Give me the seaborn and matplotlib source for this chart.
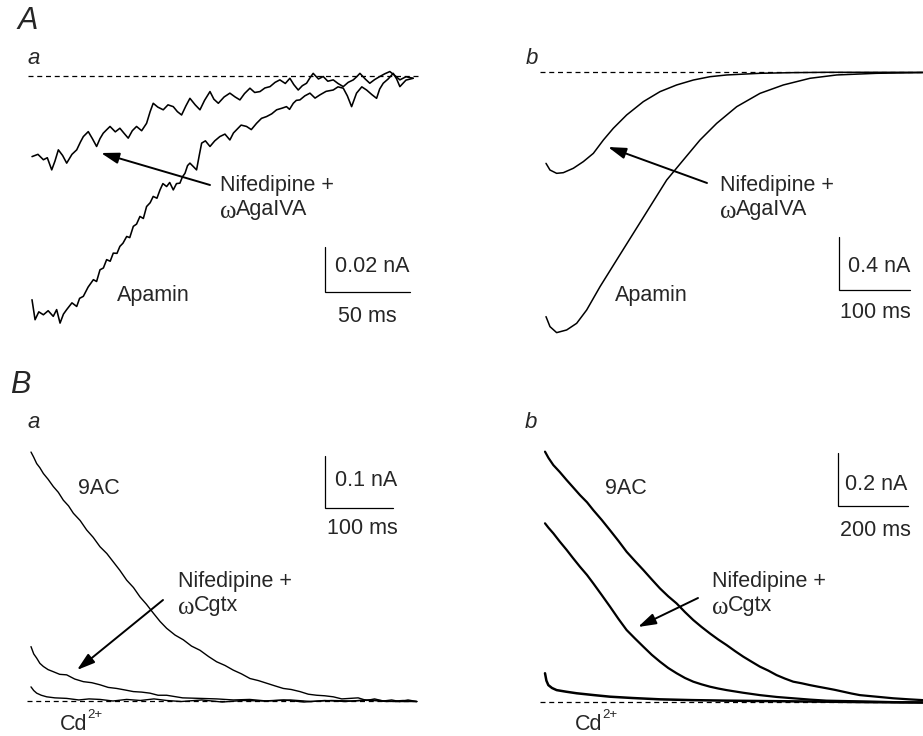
import matplotlib
matplotlib.use("Agg")
import matplotlib.pyplot as plt
import seaborn as sns
import numpy as np

sns.set_theme(style="white")
plt.rcParams['font.family'] = ['Liberation Sans', 'DejaVu Sans']
plt.rcParams['mathtext.fontset'] = 'custom'
plt.rcParams['mathtext.rm'] = 'Liberation Sans'

# ---------------- data ----------------
# Panel A a : time (ms), current (pA)
aa_nif_t = [0, 3.5, 6.7, 9.0, 11.6, 13.5, 15.5, 18.0, 20.4, 23.5, 26.3, 28.5, 30.2, 33.1, 35.5, 38.0, 40.0, 41.9,
            44.0, 45.9, 49.0, 51.7, 54.0, 56.6, 59.0, 61.5, 64.5, 67.4, 69.5, 71.3, 74.0, 77.2, 80.0, 83.1, 85.5,
            88.0, 90.5, 92.9, 96.0, 98.8, 101.5, 104.7, 107.0, 109.6, 113.0, 116.4, 119.5, 122.3, 125.0, 128.2,
            131.0, 134.1, 137.0, 140.0, 143.0, 145.8, 149.0, 151.7, 154.0, 156.6, 159.0, 161.5, 163.5, 165.4,
            168.5, 171.3, 174.0, 177.2, 180.0, 183.1, 186.0, 189.0, 191.0, 192.9, 196.0, 198.7, 201.5, 204.6,
            207.5, 210.5, 213.5, 216.4, 220.0, 224.2]
aa_nif_i = [-36.0, -35.0, -37.4, -36.5, -41.9, -38.0, -33.0, -35.5, -38.9, -35.0, -33.0, -29.5, -27.1, -24.9, -28.0,
            -31.5, -28.0, -25.6, -24.0, -22.6, -25.0, -23.4, -25.5, -27.8, -24.5, -22.6, -24.5, -21.2, -16.0,
            -12.3, -14.0, -15.2, -13.0, -13.8, -16.0, -17.5, -13.5, -10.1, -13.0, -15.2, -11.0, -7.1, -10.5,
            -12.3, -9.5, -7.8, -9.5, -10.8, -8.0, -5.6, -7.5, -7.1, -5.5, -4.9, -3.0, -1.9, -3.5, -1.2, -4.0,
            -6.4, -4.5, -3.4, -1.0, 1.0, -1.5, -0.4, -2.5, -1.9, -3.5, -4.9, -3.0, -1.9, -0.5, 1.0, -1.5, -3.4,
            -1.8, -0.4, 0.8, 1.8, 0.0, -1.9, -0.5, -1.2]
aa_apa_t = [0, 1.8, 4.0, 6.7, 9.5, 12.5, 14.5, 16.5, 18.5, 20.4, 23.5, 26.3, 28.0, 30.2, 33.0, 36.1, 38.0, 40.0,
            42.0, 43.9, 46.0, 47.8, 50.0, 51.7, 53.5, 55.7, 57.5, 59.6, 61.5, 63.5, 65.5, 67.4, 69.5, 71.3,
            73.5, 75.3, 77.0, 79.2, 81.0, 83.1, 85.0, 87.0, 88.5, 90.0, 91.5, 92.9, 95.0, 96.8, 98.5, 99.8,
            102.0, 104.7, 107.5, 110.5, 113.5, 116.4, 118.5, 120.3, 123.0, 126.2, 129.0, 132.1, 135.0, 138.0,
            141.0, 143.9, 147.0, 149.7, 151.5, 153.7, 155.5, 157.6, 160.5, 163.5, 166.5, 169.3, 173.0, 177.2,
            180.0, 183.1, 185.5, 188.0, 190.9, 194.0, 196.8, 200.0, 202.7, 204.5, 206.6, 209.5, 212.5, 214.5,
            216.4, 220.0, 224.2]
aa_apa_i = [-99.6, -108.5, -105.0, -106.3, -104.5, -107.0, -104.0, -110.0, -106.0, -104.0, -101.0, -102.6,
            -99.0, -98.1, -94.0, -90.7, -91.5, -86.3, -85.5, -81.8, -82.5, -78.9, -79.0, -75.9, -74.5, -71.5,
            -72.0, -67.0, -66.0, -62.6, -63.5, -58.2, -56.5, -53.7, -54.5, -50.8, -48.0, -49.3, -47.5, -50.8,
            -48.0, -47.8, -45.0, -43.4, -40.0, -38.9, -40.5, -41.9, -35.0, -30.0, -29.0, -31.5, -29.0, -27.1,
            -26.0, -28.6, -25.5, -24.1, -22.0, -22.6, -24.0, -21.2, -19.0, -18.2, -17.0, -15.2, -14.5, -13.8,
            -15.0, -12.3, -11.0, -10.8, -9.0, -7.8, -10.0, -8.6, -7.0, -6.4, -5.0, -5.6, -9.0, -13.8, -7.8,
            -5.0, -6.4, -8.5, -10.1, -6.0, -3.4, -1.5, 1.0, -1.5, -4.9, -2.0, -1.2]

# Panel A b : time (ms), current (nA)
ab_nif_t = [0, 5.6, 15.0, 24.4, 38.5, 52.6, 66.7, 80.8, 94.8, 113.6, 137.1, 160.6, 184.0, 207.5, 231.0, 254.5,
            301.4, 348.4, 395.3, 531.0]
ab_nif_i = [-0.683, -0.733, -0.758, -0.753, -0.720, -0.670, -0.608, -0.508, -0.420, -0.320, -0.220, -0.145,
            -0.095, -0.058, -0.033, -0.020, -0.0075, -0.0025, 0.0, 0.0]
ab_apa_t = [0, 5.6, 15.0, 29.1, 43.2, 57.3, 76.1, 99.5, 123.0, 146.5, 170.0, 193.4, 216.9, 240.4, 268.6, 301.4,
            334.3, 371.8, 409.4, 465.7, 531.0]
ab_apa_i = [-1.833, -1.908, -1.953, -1.933, -1.883, -1.783, -1.608, -1.408, -1.208, -1.008, -0.808, -0.658,
            -0.508, -0.383, -0.258, -0.158, -0.095, -0.045, -0.020, -0.0075, -0.0025]

# Panel B a : time (ms), current (nA)
ba_9ac_t = [0, 4, 8.3, 13, 18.1, 25, 32.7, 40, 47.3, 55, 62.0, 72, 81.5, 91, 101.0, 111, 120.5, 130, 140.1, 150,
            159.6, 169, 179.1, 189, 198.6, 211, 223.0, 235, 247.4, 260, 271.8, 284, 296.2, 308, 320.6, 333,
            345.0, 357, 369.4, 381, 393.8, 406, 418.2, 430, 442.6, 455, 467.0, 479, 491.4, 503, 515.8, 528,
            540, 552, 564.6]
ba_9ac_i = [0.476, 0.466, 0.454, 0.446, 0.435, 0.424, 0.410, 0.399, 0.384, 0.373, 0.359, 0.345, 0.327, 0.313,
            0.295, 0.282, 0.266, 0.250, 0.231, 0.217, 0.199, 0.185, 0.168, 0.152, 0.139, 0.126, 0.117, 0.105,
            0.097, 0.085, 0.075, 0.068, 0.059, 0.052, 0.043, 0.039, 0.034, 0.029, 0.024, 0.022, 0.018, 0.013,
            0.011, 0.010, 0.008, 0.004, 0.005, 0.006, 0.001, 0.004, 0.000, 0.002, -0.001, 0.002, -0.001]
ba_nif_t = [0, 4, 8.3, 13, 18.1, 25, 32.7, 42, 52.2, 64, 76.6, 89, 101.0, 113, 125.4, 138, 149.8, 162, 174.2,
            186, 198.6, 222, 247.4, 272, 296.2, 320, 345, 380, 410, 440, 470, 500, 530, 564.6]
ba_nif_i = [0.104, 0.090, 0.082, 0.072, 0.066, 0.060, 0.056, 0.051, 0.050, 0.042, 0.037, 0.035, 0.031, 0.026,
            0.024, 0.021, 0.018, 0.017, 0.015, 0.011, 0.011, 0.006, 0.005, 0.004, 0.002, 0.003, 0.000, 0.002,
            -0.001, 0.001, 0.000, 0.002, -0.001, -0.001]
ba_cd_t = [0, 4, 8.3, 15, 23, 35, 52, 70, 85, 101, 120, 140, 160, 180, 198.6, 220, 250, 280, 310, 340, 370, 400,
           430, 460, 490, 520, 545, 564.6]
ba_cd_i = [0.027, 0.020, 0.015, 0.011, 0.008, 0.006, 0.005, 0.002, 0.004, 0.003, 0.000, 0.003, 0.001, 0.004,
           0.001, -0.001, 0.002, -0.002, 0.001, 0.000, 0.002, -0.002, 0.001, -0.001, 0.002, -0.001, 0.001, -0.001]

# Panel B b : time (ms), current (nA)
bb_9ac_t = [0, 10, 23.8, 42, 61.9, 80, 100, 120, 138, 162, 185.6, 210, 233.2, 257, 280.8, 305, 328.4, 352, 376,
            400, 423.6, 447, 471.2, 495, 518.8, 543, 566.4, 590, 614, 638, 661.6, 685, 709.2, 733, 756.8, 780,
            804.4, 828, 852, 876, 899.6, 923, 947.2, 971, 994.8, 1040, 1079.6]
bb_9ac_i = [0.949, 0.925, 0.898, 0.872, 0.841, 0.814, 0.784, 0.757, 0.727, 0.690, 0.651, 0.610, 0.569, 0.534,
            0.500, 0.464, 0.430, 0.400, 0.373, 0.340, 0.310, 0.284, 0.259, 0.236, 0.215, 0.192, 0.171, 0.152,
            0.133, 0.118, 0.101, 0.088, 0.076, 0.070, 0.063, 0.057, 0.051, 0.045, 0.038, 0.031, 0.025, 0.022,
            0.019, 0.016, 0.013, 0.009, 0.006]
bb_nif_t = [0, 10, 23.8, 42, 61.9, 80, 100, 120, 138, 162, 185.6, 210, 233.2, 257, 280.8, 305, 328.4, 352, 376,
            400, 423.6, 447, 471.2, 495, 518.8, 566, 614, 662, 709.2, 757, 804.4, 876, 947, 1010, 1079.6]
bb_nif_i = [0.677, 0.660, 0.639, 0.608, 0.576, 0.545, 0.512, 0.481, 0.449, 0.405, 0.361, 0.314, 0.272, 0.240,
            0.209, 0.178, 0.152, 0.128, 0.108, 0.090, 0.076, 0.066, 0.057, 0.050, 0.044, 0.034, 0.025, 0.018,
            0.013, 0.008, 0.004, 0.002, 0.000, -0.002, -0.003]
bb_cd_t = [0, 4, 9.5, 20, 33.3, 60, 90.4, 140, 185.6, 250, 328.4, 420, 518.8, 660, 804, 940, 1079.6]
bb_cd_i = [0.108, 0.080, 0.063, 0.052, 0.044, 0.038, 0.032, 0.025, 0.019, 0.014, 0.009, 0.006, 0.004, 0.002,
           0.000, -0.002, -0.003]

# ---------------- layout helpers ----------------
W, H = 923, 736
fig = plt.figure(figsize=(W / 100, H / 100), dpi=100)
fig.patch.set_facecolor('white')


def panel(box, t0_px, px_per_t, base_py, px_per_i):
    l, t, r, b = box
    ax = fig.add_axes([l / W, 1 - b / H, (r - l) / W, (b - t) / H])
    ax.set_xlim((l - t0_px) / px_per_t, (r - t0_px) / px_per_t)
    ax.set_ylim((base_py - b) / px_per_i, (base_py - t) / px_per_i)
    ax.axis('off')
    ax.patch.set_alpha(0)
    return ax


def trace(ax, t, i, lw):
    sns.lineplot(x=t, y=i, ax=ax, color='black', lw=lw, sort=False, estimator=None)


def baseline(ax, x0, x1):
    ax.plot([x0, x1], [0, 0], color='black', lw=0.9, ls=(0, (4, 3)))


def scalebar(ax, corner, xlen, ylen, geo):
    t0_px, ppt, base_py, ppi = geo
    cx = (corner[0] - t0_px) / ppt
    cy = (base_py - corner[1]) / ppi
    ax.plot([cx, cx, cx + xlen], [cy + ylen, cy, cy], color='black', lw=0.9, solid_joinstyle='miter')


geo_aa = (32, 1.7, 75.6, 2.25)
geo_ab = (546, 0.71, 72.3, 133.3)
geo_ba = (31, 0.683, 701, 523.0)
geo_bb = (545, 0.35, 701.7, 263.5)

ax_aa = panel((20, 40, 440, 340), *geo_aa)
baseline(ax_aa, -2.4, 227)
trace(ax_aa, aa_nif_t, aa_nif_i, 1.15)
trace(ax_aa, aa_apa_t, aa_apa_i, 1.15)
scalebar(ax_aa, (325, 292), 50, 20, geo_aa)

ax_ab = panel((520, 40, 923, 340), *geo_ab)
baseline(ax_ab, -8.5, 540)
trace(ax_ab, ab_nif_t, ab_nif_i, 1.1)
trace(ax_ab, ab_apa_t, ab_apa_i, 1.1)
scalebar(ax_ab, (839, 290), 100, 0.4, geo_ab)

ax_ba = panel((20, 400, 440, 736), *geo_ba)
baseline(ax_ba, -6, 566)
trace(ax_ba, ba_9ac_t, ba_9ac_i, 1.0)
trace(ax_ba, ba_nif_t, ba_nif_i, 1.0)
trace(ax_ba, ba_cd_t, ba_cd_i, 1.0)
scalebar(ax_ba, (325, 508), 100, 0.1, geo_ba)

ax_bb = panel((520, 400, 923, 736), *geo_bb)
baseline(ax_bb, -14, 1085)
trace(ax_bb, bb_9ac_t, bb_9ac_i, 1.6)
trace(ax_bb, bb_nif_t, bb_nif_i, 1.6)
trace(ax_bb, bb_cd_t, bb_cd_i, 1.8)
scalebar(ax_bb, (838, 506), 200, 0.2, geo_bb)

# ---------------- text and arrows (pixel overlay) ----------------
ov = fig.add_axes([0, 0, 1, 1])
ov.set_xlim(0, W)
ov.set_ylim(H, 0)
ov.axis('off')
ov.patch.set_alpha(0)

fs = 15.5
ov.text(17, 21, 'A', fontsize=22, style='italic', va='center', ha='left')
ov.text(10, 385, 'B', fontsize=22, style='italic', va='center', ha='left')
for x, y, s in [(27, 59, 'a'), (526, 59, 'b'), (27, 423, 'a'), (525, 423, 'b')]:
    ov.text(x, y, s, fontsize=16, style='italic', va='center', ha='left')

labels = [
    (220, 186, 'Nifedipine +'), (117, 295, 'Apamin'),
    (335, 267, '0.02 nA'), (338, 316, '50 ms'),
    (720, 186, 'Nifedipine +'), (615, 295, 'Apamin'),
    (848, 266, '0.4 nA'), (840, 312, '100 ms'),
    (78, 489, '9AC'), (335, 480, '0.1 nA'), (327, 529, '100 ms'),
    (178, 581, 'Nifedipine +'),
    (605, 489, '9AC'), (845, 484, '0.2 nA'), (840, 531, '200 ms'),
    (712, 582, 'Nifedipine +'),
]
for x, y, s in labels:
    ov.text(x, y, s, fontsize=fs, va='center', ha='left')

# omega-prefixed toxin names (omega in a serif face, as in the original)
for x, y, s in [(220, 210, 'AgaIVA'), (720, 210, 'AgaIVA'), (178, 606, 'Cgtx'), (712, 606, 'Cgtx')]:
    ov.text(x, y + 2, 'ω', fontsize=18, family=['Liberation Serif', 'DejaVu Serif'], va='center', ha='left')
    ov.text(x + 16, y, s, fontsize=fs, va='center', ha='left')

for x, y in [(60, 724), (575, 724)]:
    ov.text(x, y, 'Cd', fontsize=fs, va='center', ha='left')
    ov.text(x + 27.5, y - 9, '2+', fontsize=9.5, va='center', ha='left')

arrows = [((210, 185), (101, 153)), ((707, 183), (608, 147)),
          ((163, 600), (77, 670)), ((698, 598), (638, 627))]
for tail, head in arrows:
    ov.annotate('', xy=head, xytext=tail,
                arrowprops=dict(arrowstyle='-|>,head_length=0.9,head_width=0.28',
                                color='black', lw=1.4, shrinkA=0, shrinkB=0))

fig.savefig('out.png', dpi=100, facecolor='white')
